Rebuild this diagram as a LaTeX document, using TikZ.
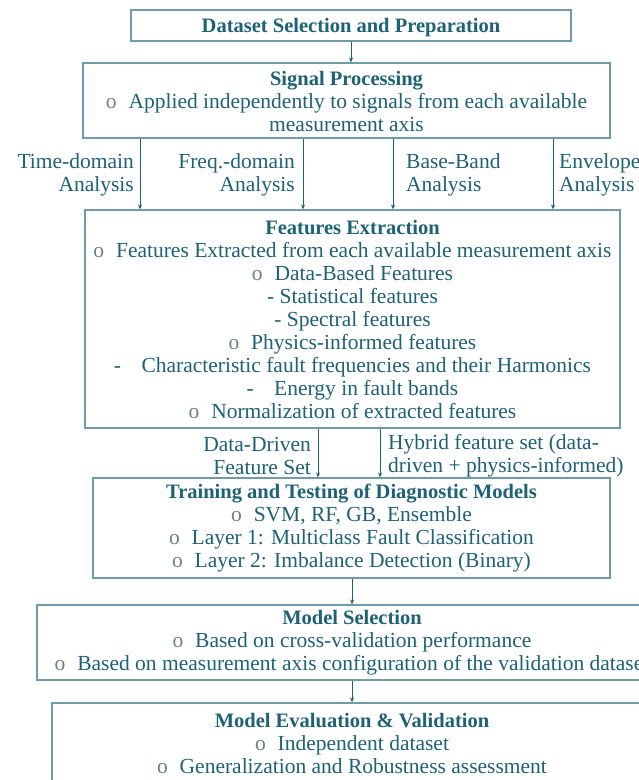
\documentclass[tikz,border=0pt]{standalone}
\usepackage{fontspec}
\setmainfont{Liberation Serif}
\usetikzlibrary{arrows.meta}
\definecolor{txt}{HTML}{1D6275}
\definecolor{brd}{HTML}{6E9CAB}
\definecolor{bul}{HTML}{6F8088}
\newcommand{\bl}{{\color{bul}o}\hspace{0.55em}}
\newcommand{\hd}[1]{{\fontsize{20.5}{23}\selectfont\bfseries #1}}
\tikzset{
  box/.style={draw=brd, line width=1.1pt, fill=white, inner sep=0pt},
  txtn/.style={text=txt, font=\fontsize{21.5}{23}\selectfont, align=center, inner sep=0pt},
  sidel/.style={text=txt, font=\fontsize{21.5}{23}\selectfont, inner sep=0pt},
  arr/.style={draw=txt, line width=0.9pt, -{Stealth[length=5pt,width=4pt]}}
}
\begin{document}
\begin{tikzpicture}[x=1pt,y=-1pt]
\useasboundingbox (0,0) rectangle (639,780);
\clip (0,0) rectangle (639,780);
\fill[white] (0,0) rectangle (639,780);

\node[box, minimum width=440pt, minimum height=31pt] (b1) at (351,25.5) {};
\node[box, minimum width=527pt, minimum height=75pt] (b2) at (346.5,100.5) {};
\node[box, minimum width=535pt, minimum height=218pt] (b3) at (352.5,319) {};
\node[box, minimum width=517pt, minimum height=100pt] (b4) at (351.5,528) {};
\node[box, minimum width=630pt, minimum height=75pt] (b5) at (352,642.5) {};
\node[box, minimum width=600pt, minimum height=81pt] (b6) at (352,743.5) {};

\node[txtn] (t1) at ([yshift=-2pt]b1.center) {\hd{Dataset Selection and Preparation}};
\node[txtn] (t2) at ([yshift=-1pt]b2.center) {\hd{Signal Processing}\\ \bl Applied independently to signals from each available\\ measurement axis};
\node[txtn] (t3) at (b3.center) {\hd{Features Extraction}\\
\bl Features Extracted from each available measurement axis\\
\bl Data-Based Features\\
- Statistical features\\
- Spectral features\\
\bl Physics-informed features\\
-\hspace{0.95em}Characteristic fault frequencies and their Harmonics\\
-\hspace{0.95em}Energy in fault bands\\
\bl Normalization of extracted features};
\node[txtn] (t4) at (b4.center) {\hd{Training and Testing of Diagnostic Models}\\
\bl SVM, RF, GB, Ensemble\\
\bl Layer 1: Multiclass Fault Classification\\
\bl Layer 2: Imbalance Detection (Binary)};
\node[txtn] (t5) at (b5.center) {\hd{Model Selection}\\
\bl Based on cross-validation performance\\
\bl Based on measurement axis configuration of the validation dataset};
\node[txtn] (t6) at (b6.center) {\hd{Model Evaluation \& Validation}\\
\bl Independent dataset\\
\bl Generalization and Robustness assessment};

\coordinate (c1) at (140,0);
\coordinate (c2) at (303,0);
\coordinate (c3) at (393,0);
\coordinate (c4) at (553,0);
\coordinate (d1) at (318,0);
\coordinate (d2) at (380,0);

\draw[arr] (b1.south) -- (b1.south |- b2.north);
\draw[arr] (b2.south -| c1) -- (b3.north -| c1);
\draw[arr] (b2.south -| c2) -- (b3.north -| c2);
\draw[arr] (b2.south -| c3) -- (b3.north -| c3);
\draw[arr] (b2.south -| c4) -- (b3.north -| c4);
\draw[arr] (b3.south -| d1) -- (b4.north -| d1);
\draw[arr] (b3.south -| d2) -- (b4.north -| d2);
\draw[arr] (b4.south -| b5.north) -- (b5.north);
\draw[arr] (b5.south) -- (b6.north);

\node[sidel, anchor=east, align=right] (l1) at (134,174.5) {Time-domain\\ Analysis};
\node[sidel, anchor=east, align=right] (l2) at (295,174.5) {Freq.-domain\\ Analysis};
\node[sidel, anchor=west, align=left] (l3) at (406,174.5) {Base-Band\\ Analysis};
\node[sidel, anchor=west, align=left] (l4) at (559,174.5) {Envelope\\ Analysis};
\node[sidel, anchor=east, align=right] (l5) at (311,456) {Data-Driven\\ Feature Set};
\node[sidel, anchor=west, align=left] (l6) at (388,456) {Hybrid feature set (data-\\ driven + physics-informed)};
\end{tikzpicture}
\end{document}
